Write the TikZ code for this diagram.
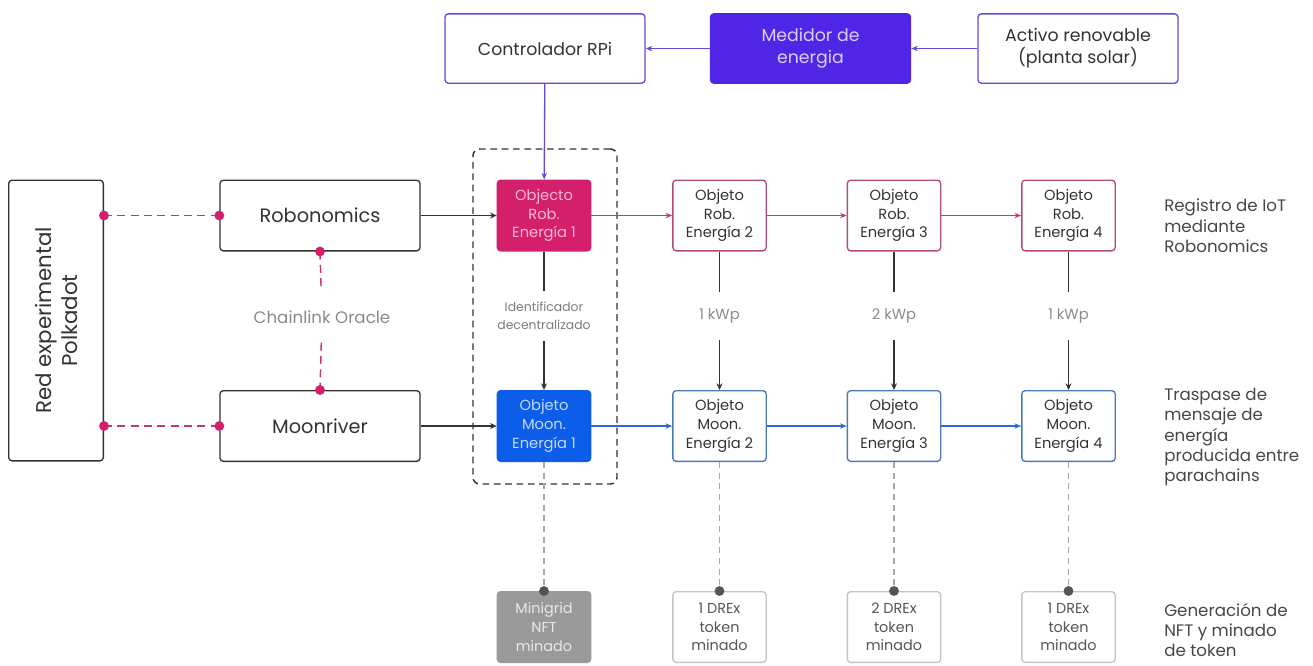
\documentclass[tikz,border=0pt]{standalone}
\usepackage{fontspec}
\setmainfont{Poppins}
\usetikzlibrary{arrows.meta,fit}
\definecolor{purp}{HTML}{5E4BD6}
\definecolor{medfill}{HTML}{4F26E6}
\definecolor{medtxt}{HTML}{D8D0FF}
\definecolor{mag}{HTML}{D4206A}
\definecolor{magline}{HTML}{C83672}
\definecolor{robb}{HTML}{B24A7C}
\definecolor{robtxt}{HTML}{F6BAD5}
\definecolor{moonfill}{HTML}{0C5EEA}
\definecolor{moontxt}{HTML}{C5DAFF}
\definecolor{moonb}{HTML}{4A7AB8}
\definecolor{moonarr}{HTML}{2D6AD6}
\definecolor{dark}{HTML}{333333}
\definecolor{lgray}{HTML}{A8A8A8}
\definecolor{mgray}{HTML}{8A8A8A}
\definecolor{dotg}{HTML}{555555}
\definecolor{nftfill}{HTML}{9A9A9A}
\definecolor{nfttxt}{HTML}{E8E8E8}
\definecolor{tokb}{HTML}{C4C4C4}
\definecolor{toktxt}{HTML}{555555}
\begin{document}
\begin{tikzpicture}[x=0.75pt,y=-0.75pt,
  box/.style={draw, rounded corners=2.5pt, align=center, inner sep=0pt, line width=1pt},
  topbox/.style={box, draw=purp, minimum width=150pt, minimum height=52pt, font=\fontsize{13}{16.5}\selectfont, text=dark},
  chainbig/.style={box, draw=dark, minimum width=150pt, minimum height=53pt, font=\fontsize{14.5}{17}\selectfont, text=dark},
  objbox/.style={box, minimum width=70pt, minimum height=53pt, font=\fontsize{11}{14}\selectfont},
  robobj/.style={objbox, draw=robb, text=dark},
  moonobj/.style={objbox, draw=moonb, text=dark},
  tokbox/.style={objbox, draw=tokb, text=toktxt, font=\fontsize{10.8}{14}\selectfont},
  lbl/.style={align=center, inner sep=0pt, minimum height=35pt},
  sidetxt/.style={anchor=west, align=left, inner sep=0pt, text=dark!90, font=\fontsize{12.5}{15.3}\selectfont},
  purparrow/.style={draw=purp, line width=1pt, -{Stealth[length=5pt,width=4pt]}},
  blkarrow/.style={draw=dark, line width=1.1pt, -{Stealth[length=5pt,width=4.5pt]}},
  magarrow/.style={draw=magline, line width=1pt, -{Stealth[length=5pt,width=4pt]}},
  moonarrow/.style={draw=moonarr, line width=1pt, -{Stealth[length=5pt,width=4pt]}},
  magdash/.style={draw=magline, line width=1.1pt, dash pattern=on 6pt off 4pt},
  graydash/.style={draw=lgray, line width=0.8pt, dash pattern=on 4.5pt off 3.5pt},
  magdot/.style={fill=mag},
  graydot/.style={fill=dotg}
]
\useasboundingbox (0,0) rectangle (1313,665);

% top row
\node[topbox] (ctrl) at (545,48.5) {Controlador RPi};
\node[topbox, fill=medfill, draw=medfill, text=medtxt] (med) at (810.5,48.5) {Medidor de\\energia};
\node[topbox] (act) at (1078,48.5) {Activo renovable\\(planta solar)};
\draw[purparrow] (act) -- (med);
\draw[purparrow] (med) -- (ctrl);

% left structure
\node[box, draw=dark, minimum width=71pt, minimum height=210.5pt] (red) at (56,320.5) {};
\node[rotate=90, align=center, font=\fontsize{16}{19.5}\selectfont, text=dark] (redtxt) at (red.center) {Red experimental\\Polkadot};
\node[chainbig] (robo) at (320,215.5) {Robonomics};
\node[chainbig] (moonr) at (320,426) {Moonriver};
\node[lbl, text=mgray, font=\fontsize{12.5}{14}\selectfont, minimum height=38pt] (oracle) at (322,317) {Chainlink Oracle};

% column objects
\node[robobj, fill=mag, draw=mag, text=robtxt] (rob1) at (544,215.5) {Objecto\\Rob.\\Energía 1};
\node[robobj] (rob2) at (719.5,215.5) {Objeto\\Rob.\\Energía 2};
\node[robobj] (rob3) at (894,215.5) {Objeto\\Rob.\\Energía 3};
\node[robobj] (rob4) at (1068.5,215.5) {Objeto\\Rob.\\Energía 4};

\node[moonobj, fill=moonfill, draw=moonfill, text=moontxt] (moon1) at (544,426) {Objeto\\Moon.\\Energía 1};
\node[moonobj] (moon2) at (719.5,426) {Objeto\\Moon.\\Energía 2};
\node[moonobj] (moon3) at (894,426) {Objeto\\Moon.\\Energía 3};
\node[moonobj] (moon4) at (1068.5,426) {Objeto\\Moon.\\Energía 4};

\node[tokbox, fill=nftfill, draw=nftfill, text=nfttxt] (nft1) at (544,627) {Minigrid\\NFT\\minado};
\node[tokbox] (tok2) at (719.5,627) {1 DREx\\token\\minado};
\node[tokbox] (tok3) at (894,627) {2 DREx\\token\\minado};
\node[tokbox] (tok4) at (1068.5,627) {1 DREx\\token\\minado};

% labels between rows
\node[lbl, text=mgray!90!black, font=\fontsize{9.3}{13.5}\selectfont, minimum height=37pt] (ident) at (544,316) {Identificador\\decentralizado};
\node[lbl, text=mgray, font=\fontsize{11}{13}\selectfont] (kw2) at (719.5,316) {1 kWp};
\node[lbl, text=mgray, font=\fontsize{11}{13}\selectfont] (kw3) at (894,316) {2 kWp};
\node[lbl, text=mgray, font=\fontsize{11}{13}\selectfont] (kw4) at (1068.5,316) {1 kWp};

% dashed group
\node[draw=dark, line width=1.1pt, dash pattern=on 5pt off 3.5pt, rounded corners=5pt, inner sep=0pt, fit={(473,149) (617,484)}] (grp) {};

% connectors
\draw[purparrow] (ctrl) -- (rob1);
\draw[blkarrow] (robo) -- (rob1);
\draw[blkarrow] (moonr) -- (moon1);
\draw[magarrow] (rob1) -- (rob2);
\draw[magarrow] (rob2) -- (rob3);
\draw[magarrow] (rob3) -- (rob4);
\draw[moonarrow] (moon1) -- (moon2);
\draw[moonarrow] (moon2) -- (moon3);
\draw[moonarrow] (moon3) -- (moon4);

\draw[draw=dark, line width=1.1pt] (rob1) -- (ident);
\draw[blkarrow] (ident) -- (moon1);
\draw[draw=dark, line width=1.1pt] (rob2) -- (kw2);
\draw[blkarrow] (kw2) -- (moon2);
\draw[draw=dark, line width=1.1pt] (rob3) -- (kw3);
\draw[blkarrow] (kw3) -- (moon3);
\draw[draw=dark, line width=1.1pt] (rob4) -- (kw4);
\draw[blkarrow] (kw4) -- (moon4);

% magenta dashed links
\coordinate (redR) at (red.east |- robo.west);
\coordinate (redM) at (red.east |- moonr.west);
\draw[magdash] (redR) -- (robo.west);
\draw[magdash] (redM) -- (moonr.west);
\draw[magdash] (robo.south) -- (oracle);
\draw[magdash] (oracle) -- (moonr.north);
\fill[magdot] (redR) circle[radius=3.7pt];
\fill[magdot] (robo.west) circle[radius=3.7pt];
\fill[magdot] (redM) circle[radius=3.7pt];
\fill[magdot] (moonr.west) circle[radius=3.7pt];
\fill[magdot] (robo.south) circle[radius=3.7pt];
\fill[magdot] (moonr.north) circle[radius=3.7pt];

% gray dashed links to tokens
\draw[graydash] (moon1) -- (nft1.north);
\draw[graydash] (moon2) -- (tok2.north);
\draw[graydash] (moon3) -- (tok3.north);
\draw[graydash] (moon4) -- (tok4.north);
\fill[graydot] (nft1.north) circle[radius=3.7pt];
\fill[graydot] (tok2.north) circle[radius=3.7pt];
\fill[graydot] (tok3.north) circle[radius=3.7pt];
\fill[graydot] (tok4.north) circle[radius=3.7pt];

% side texts
\node[sidetxt] (s1) at (1164,226) {Registro de IoT\\mediante\\Robonomics};
\node[sidetxt] (s2) at (1164,437) {Traspase de\\mensaje de\\energía\\producida entre\\parachains};
\node[sidetxt, font=\fontsize{12.5}{14.8}\selectfont] (s3) at (1164,630) {Generación de\\NFT y minado\\de token};
\end{tikzpicture}
\end{document}
